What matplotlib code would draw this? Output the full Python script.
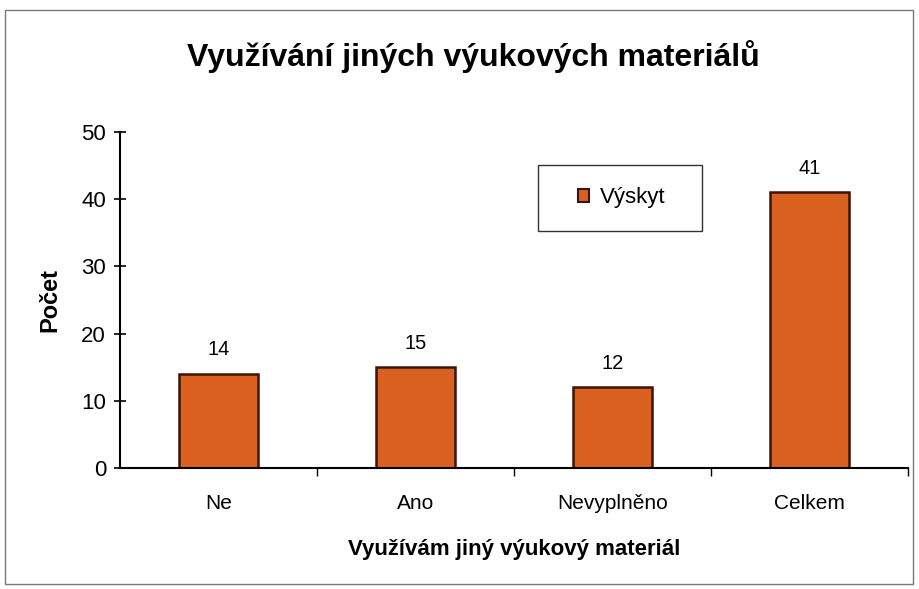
import matplotlib
matplotlib.use("Agg")
import matplotlib.pyplot as plt
from matplotlib.patches import Rectangle, Patch

categories = ["Ne", "Ano", "Nevyplněno", "Celkem"]
values = [14, 15, 12, 41]
series_name = "Výskyt"
yticks = [0, 10, 20, 30, 40, 50]

plt.rcParams['font.family'] = ['Liberation Sans', 'DejaVu Sans']

BAR_COLOR = "#D9601F"
EDGE_COLOR = "#3A1508"

fig = plt.figure(figsize=(9.19, 5.89), dpi=100)
fig.patch.set_facecolor("white")
# outer frame
fig.patches.append(Rectangle((5/919, 5/589), 908/919, 574/589, transform=fig.transFigure,
                             fill=False, edgecolor="#777777", linewidth=1.0))

ax = fig.add_axes([120/919, 1-468/589, 788/919, 336/589])
x = list(range(len(categories)))
ax.bar(x, values, width=0.4, color=BAR_COLOR, edgecolor=EDGE_COLOR, linewidth=1.8,
       label=series_name)
for xi, v in zip(x, values):
    ax.text(xi, v + 3.6, str(v), ha="center", va="center", fontsize=14.5)

ax.set_xlim(-0.5, 3.5)
ax.set_ylim(0, 50)
ax.set_yticks(yticks)
ax.set_xticks(x)
ax.set_xticklabels(categories, fontsize=15)
ax.tick_params(axis="x", length=0, pad=19)
ax.set_xticks([0.5, 1.5, 2.5, 3.5], minor=True)
ax.tick_params(axis="x", which="minor", length=6, direction="out", width=1)
ax.tick_params(axis="y", labelsize=16, length=8, direction="inout", width=1.2, pad=6)
for s in ["top", "right"]:
    ax.spines[s].set_visible(False)
ax.spines["left"].set_linewidth(1.5)
ax.spines["bottom"].set_linewidth(1.5)

ax.set_ylabel("Počet", fontsize=17, fontweight="bold", labelpad=14)
ax.set_xlabel("Využívám jiný výukový materiál", fontsize=16, fontweight="bold")
ax.xaxis.label.set_va("baseline")
ax.xaxis.set_label_coords(0.5, (468-555)/336)

fig.text(473/919, 1-66/589, "Využívání jiných výukových materiálů", ha="center", va="baseline",
         fontsize=23, fontweight="bold")

# legend frame box
ax.add_patch(Rectangle(((538-120)/788, (468-231)/336), (702-538)/788, (231-165)/336,
                       transform=ax.transAxes, facecolor="white", edgecolor="#333333",
                       linewidth=1.0, clip_on=False, zorder=4))
handle = Patch(facecolor=BAR_COLOR, edgecolor=EDGE_COLOR, linewidth=1.5, label=series_name)
leg = ax.legend(handles=[handle], loc="center left",
                bbox_to_anchor=((578-120)/788, (468-198)/336),
                fontsize=16, frameon=False, borderpad=0, borderaxespad=0,
                handlelength=0.5, handleheight=0.5, handletextpad=0.5)
leg.set_zorder(5)

fig.savefig("out.png", dpi=100, facecolor="white")
